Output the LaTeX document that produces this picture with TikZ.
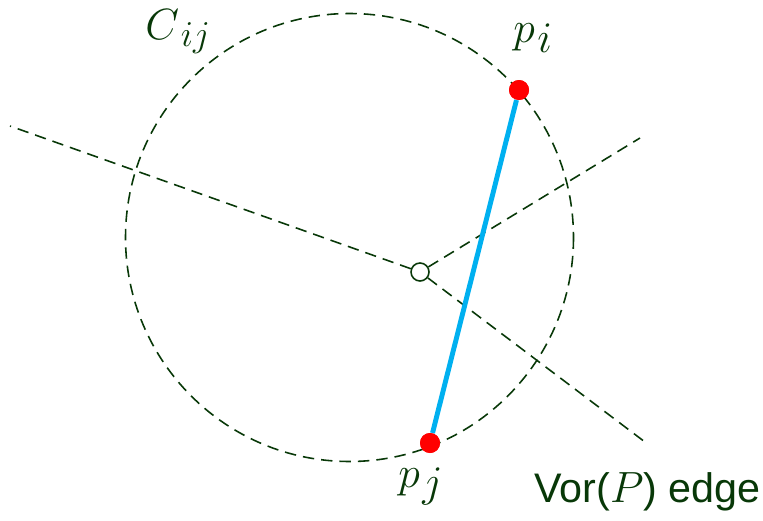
\documentclass[tikz,border=0pt]{standalone}
\usepackage{fontspec}
\setsansfont{Liberation Sans}
\definecolor{dkgreen}{RGB}{8,56,8}
\definecolor{skyblue}{RGB}{0,176,240}
\newcommand{\mylab}[6]{{\fontsize{#1}{#1}\selectfont$#3$}\kern#6\raisebox{-#5}{\fontsize{#2}{#2}\selectfont$#4$}}
\begin{document}
\begin{tikzpicture}[x=0.02cm,y=-0.02cm,
  dline/.style={draw=dkgreen,line width=0.9pt,dash pattern=on 6.5pt off 4pt},
  site/.style={circle,fill=red,inner sep=0pt,minimum size=0.4cm},
  vtx/.style={circle,draw=dkgreen,fill=white,line width=0.9pt,inner sep=0pt,minimum size=0.36cm},
  lbl/.style={text=dkgreen,inner sep=0pt}]
\useasboundingbox (0,0) rectangle (763,520);
% circle C_ij
\draw[dline] (349.5,237.5) circle[radius=224];
% Voronoi vertex and edges
\node[vtx] (v) at (420,272) {};
\coordinate (ea) at (10,126);
\coordinate (eb) at (640,138);
\coordinate (ec) at (645,442);
\draw[dline] (v) -- (ea);
\draw[dline] (v) -- (eb);
\draw[dline] (v) -- (ec);
% segment
\node[site] (pi) at (519,90) {};
\node[site] (pj) at (430,443) {};
\draw[skyblue,line width=2.8pt] (pi) -- (pj);
\node[site] at (519,90) {};
\node[site] at (430,443) {};
% labels
\node[lbl,anchor=base west] (lpi) at (513,43) {\mylab{33}{24}{p}{i}{5.5pt}{1.5pt}};
\node[lbl,anchor=base west] (lc) at (145,40) {\mylab{27}{21}{C}{ij}{3.5pt}{1pt}};
\node[lbl,anchor=base west] (lpj) at (398,487) {\mylab{33}{24}{p}{j}{5.5pt}{1.5pt}};
\node[lbl,anchor=base west,font=\sffamily\fontsize{23.5}{25}\selectfont] (lvor) at (534,502) {Vor($P$) edge};
\end{tikzpicture}
\end{document}
